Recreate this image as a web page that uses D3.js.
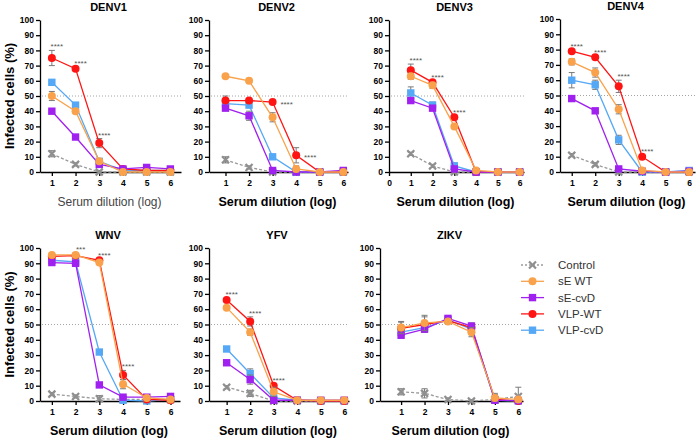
<html lang="en">
  <head>
    <meta charset="UTF-8" />
    <title>Infected cells vs serum dilution</title>
    <script src="https://d3js.org/d3.v7.min.js"></script>
  </head>
  <style>
    body {
      margin: 0;
      background: white;
    }
    svg {
      font-family: "Liberation Sans", Arial, sans-serif;
    }
    .axis path,
    .axis line {
      stroke: black;
      stroke-width: 1.3px;
    }
    .axis text {
      font-size: 8.5px;
      font-weight: bold;
      fill: black;
    }
  </style>
  <body>
    <div id="viz"></div>
    <script>
      // one row per virus, one value per dilution (1..6)
      const viruses = ["DENV1", "DENV2", "DENV3", "DENV4", "WNV", "YFV", "ZIKV"];
      const dilutions = [1, 2, 3, 4, 5, 6];
      const seriesNames = ["Control", "sE WT", "sE-cvD", "VLP-WT", "VLP-cvD"];

      const controlMean = [
        [12, 5, 0, 0, 0, 0],
        [8, 3, 0, 0, 0, 0],
        [12, 4, 0, 0, 0, 0],
        [11, 5, 0, 0, 0, 0],
        [4.5, 3, 1.5, 1, 1, 1],
        [9, 5, 0, 0, 0, 0],
        [6, 5, 1, 0, 1, 3]
      ];
      const controlErr = [
        [2, 1, 1, 0, 0, 0],
        [2, 1, 0, 0, 0, 0],
        [1, 1, 1, 0, 0, 0],
        [1, 1, 1, 0, 0, 0],
        [1, 1, 2, 0, 0, 0],
        [1, 2, 1, 0, 0, 0],
        [2, 3, 1, 1, 3, 6]
      ];
      const seWtMean = [
        [50, 40, 7, 0, 0, 0],
        [63, 60, 36, 2, 0, 0],
        [63, 57, 30, 1, 0, 0],
        [72, 65, 41, 1, 0, 0],
        [95.5, 95.5, 90.5, 11, 2, 1],
        [61, 45, 6, 0.5, 0.5, 0.5],
        [48, 51, 52, 45, 2, 1]
      ];
      const seWtErr = [
        [3, 1, 1, 0, 0, 0],
        [1, 1, 3, 2, 0, 0],
        [2, 2, 1, 1, 0, 0],
        [2, 3, 3, 1, 0, 0],
        [1, 1, 1, 3, 1, 0],
        [1, 2, 3, 1, 0, 0],
        [4, 5, 1, 3, 3, 1]
      ];
      const seCvdMean = [
        [40, 23, 5, 2, 3, 2],
        [42, 37, 1, 0, 0, 1],
        [47, 42, 2, 0, 0, 0],
        [48, 40, 2, 0.5, 0, 0.5],
        [90.5, 90, 10.5, 2.5, 2.5, 3],
        [25, 14, 0.5, 0.5, 0.5, 0.5],
        [43, 47, 54, 49, 0.5, 0.3]
      ];
      const seCvdErr = [
        [1, 1, 1, 0, 0, 0],
        [1, 3, 1, 0, 0, 2],
        [1, 1, 1, 0, 0, 0],
        [1, 1, 1, 0, 0, 0],
        [1, 1, 1, 1, 1, 1],
        [1, 3, 1, 0, 0, 0],
        [2, 2, 1, 1, 1, 0]
      ];
      const vlpWtMean = [
        [75, 68, 19, 2, 1, 1],
        [47, 47, 46, 11, 0, 0],
        [67, 59, 36, 0, 0, 0],
        [79, 75, 56, 10, 0, 0],
        [94.5, 95, 92, 17, 1, 0.5],
        [66, 52, 10, 0.5, 0, 0],
        [47.5, 50, 52.5, 48, 1, 0]
      ];
      const vlpWtErr = [
        [5, 1, 3, 0, 0, 0],
        [3, 1, 1, 5, 2, 0],
        [4, 1, 1, 0, 0, 0],
        [1, 1, 4, 1, 0, 0],
        [1, 1, 1, 3, 1, 0],
        [1, 3, 1, 0, 0, 0],
        [4, 5, 1, 3, 3, 0]
      ];
      const vlpCvdMean = [
        [59, 44, 7, 1, 1, 1],
        [45, 44, 10, 0, 0, 0],
        [52, 44, 4, 0, 0, 0],
        [60, 57, 21, 0, 0, 1],
        [92, 91, 32, 0.5, 0, 1],
        [34, 18, 2, 0.5, 0, 0],
        [45, 48, 53, 47, 0.5, 0]
      ];
      const vlpCvdErr = [
        [1, 1, 1, 0, 0, 0],
        [1, 1, 1, 0, 0, 0],
        [4, 2, 2, 0, 0, 0],
        [5, 3, 3, 0, 0, 1],
        [1, 1, 1, 1, 0, 0],
        [1, 3, 2, 0, 0, 0],
        [3, 3, 1, 2, 1, 0]
      ];

      // significance marks (VLP-WT vs control)
      const starDilutions = [[1, 2, 3], [3, 4], [1, 2, 3], [1, 2, 3, 4], [2, 3, 4], [1, 2, 3], []];
      const starLabels = [
        ["****", "****", "****"],
        ["****", "****"],
        ["****", "****", "****"],
        ["****", "****", "****", "****"],
        ["***", "****", "****"],
        ["****", "****", "****"],
        []
      ];

      // panel frames (pixels) and x domains
      const frames = [
        { left: 40, right: 181, top: 20, bottom: 172, dom: [0.5, 6.45], ticks: [1, 2, 3, 4, 5, 6], boldX: false },
        { left: 209, right: 348, top: 20, bottom: 172, dom: [0.3, 6.2], ticks: [1, 2, 3, 4, 5, 6], boldX: true },
        { left: 389, right: 524, top: 20, bottom: 172, dom: [0, 6.2], ticks: [0, 1, 2, 3, 4, 5, 6], boldX: true },
        { left: 560, right: 695, top: 19, bottom: 172, dom: [0.5, 6.25], ticks: [1, 2, 3, 4, 5, 6], boldX: true },
        { left: 40, right: 180, top: 248, bottom: 401, dom: [0.5, 6.4], ticks: [1, 2, 3, 4, 5, 6], boldX: true },
        { left: 209, right: 349, top: 248, bottom: 401, dom: [0.25, 6.2], ticks: [1, 2, 3, 4, 5, 6], boldX: true },
        { left: 380, right: 523, top: 248, bottom: 401, dom: [0.1, 6.2], ticks: [1, 2, 3, 4, 5, 6], boldX: true }
      ];

      const colors = ["#8f8f8f", "#f9a24b", "#a020f0", "#ff1414", "#55a8f5"];
      const markers = ["x", "circle", "square", "circle", "square"];
      const means = [controlMean, seWtMean, seCvdMean, vlpWtMean, vlpCvdMean];
      const errs = [controlErr, seWtErr, seCvdErr, vlpWtErr, vlpCvdErr];
      const drawOrder = [0, 4, 3, 2, 1];

      const svg = d3.select("#viz").append("svg").attr("width", 696).attr("height", 439);

      function drawMarker(g, type, cx, cy, color) {
        if (type === "circle") {
          g.append("circle").attr("cx", cx).attr("cy", cy).attr("r", 4).attr("fill", color);
        } else if (type === "square") {
          g.append("rect")
            .attr("x", cx - 3.7).attr("y", cy - 3.7)
            .attr("width", 7.4).attr("height", 7.4)
            .attr("fill", color);
        } else {
          g.append("path")
            .attr("d", `M${cx - 3.5},${cy - 3.5}L${cx + 3.5},${cy + 3.5}M${cx - 3.5},${cy + 3.5}L${cx + 3.5},${cy - 3.5}`)
            .attr("stroke", color).attr("stroke-width", 2.2).attr("fill", "none");
        }
      }

      viruses.forEach(function (virus, vi) {
        const f = frames[vi];
        const x = d3.scaleLinear().domain(f.dom).range([f.left, f.right]);
        const y = d3.scaleLinear().domain([0, 100]).range([f.bottom, f.top]);
        const g = svg.append("g");

        // 50% reference
        g.append("line")
          .attr("x1", f.left + 2).attr("x2", f.right)
          .attr("y1", y(50)).attr("y2", y(50))
          .attr("stroke", "#9a9a9a").attr("stroke-width", 0.9)
          .attr("stroke-dasharray", "1,2");

        g.append("g").attr("class", "axis")
          .attr("transform", "translate(" + f.left + ",0)")
          .call(d3.axisLeft(y).tickValues(d3.range(0, 101, 10)).tickSize(4).tickSizeOuter(0).tickPadding(2));

        g.append("g").attr("class", "axis")
          .attr("transform", "translate(0," + f.bottom + ")")
          .call(d3.axisBottom(x).tickValues(f.ticks).tickSize(4).tickSizeOuter(0).tickPadding(4).tickFormat(d3.format("d")));

        // title
        g.append("text")
          .attr("x", (f.left + f.right) / 2 - 2)
          .attr("y", f.top - 9)
          .attr("text-anchor", "middle")
          .style("font-size", "11px")
          .style("font-weight", "bold")
          .text(virus);

        // x label
        g.append("text")
          .attr("x", (f.left + f.right) / 2 - 1)
          .attr("y", f.bottom + 34)
          .attr("text-anchor", "middle")
          .style("font-size", f.boldX ? "12.5px" : "12px")
          .style("font-weight", f.boldX ? "bold" : "normal")
          .style("fill", f.boldX ? "black" : "#444")
          .text("Serum dilution (log)");

        // y label on left column
        if (f.left < 100) {
          g.append("text")
            .attr("transform", "translate(14," + (f.top + f.bottom) / 2 + ") rotate(-90)")
            .attr("text-anchor", "middle")
            .style("font-size", "13px")
            .style("font-weight", "bold")
            .text("Infected cells (%)");
        }

        drawOrder.forEach(function (si) {
          const m = means[si][vi];
          const e = errs[si][vi];
          const color = colors[si];
          const sg = g.append("g");

          // error bars
          m.forEach(function (v, j) {
            if (e[j] <= 0) return;
            const cx = x(dilutions[j]);
            const lo = y(Math.max(0, v - e[j]));
            const hi = y(v + e[j]);
            sg.append("line").attr("x1", cx).attr("x2", cx).attr("y1", lo).attr("y2", hi)
              .attr("stroke", "#7a7a7a").attr("stroke-width", 1);
            [lo, hi].forEach(function (yy) {
              sg.append("line").attr("x1", cx - 3).attr("x2", cx + 3).attr("y1", yy).attr("y2", yy)
                .attr("stroke", "#7a7a7a").attr("stroke-width", 1);
            });
          });

          sg.append("path")
            .datum(m)
            .attr("fill", "none")
            .attr("stroke", si === 0 ? "#9a9a9a" : color)
            .attr("stroke-width", 1.3)
            .attr("stroke-dasharray", si === 0 ? "3,2" : null)
            .attr("d", d3.line().x((d, j) => x(dilutions[j])).y((d) => y(d)));

          m.forEach(function (v, j) {
            drawMarker(sg, markers[si], x(dilutions[j]), y(v), color);
          });
        });

        // significance stars
        starDilutions[vi].forEach(function (dil, k) {
          const j = dilutions.indexOf(dil);
          const px = x(dil);
          let tx, ty;
          if (vi === 1) {
            tx = px + 14;
            ty = y(vlpWtMean[vi][j]) + 4.5;
          } else {
            const top = d3.max(means, (s, si) => s[vi][j] + errs[si][vi][j]);
            tx = px + 5;
            ty = y(top) - 1;
          }
          g.append("text")
            .attr("x", tx).attr("y", ty)
            .attr("text-anchor", "middle")
            .style("font-size", "8px")
            .style("fill", "#555")
            .text(starLabels[vi][k]);
        });
      });

      // legend
      const legend = svg.append("g").attr("transform", "translate(521,265)");
      seriesNames.forEach(function (name, si) {
        const row = legend.append("g").attr("transform", "translate(0," + si * 16.3 + ")");
        row.append("line")
          .attr("x1", 0).attr("x2", 23).attr("y1", 0).attr("y2", 0)
          .attr("stroke", si === 0 ? "#9a9a9a" : colors[si])
          .attr("stroke-width", 1.3)
          .attr("stroke-dasharray", si === 0 ? "2,2" : null);
        drawMarker(row, markers[si], 11.5, 0, colors[si]);
        row.append("text")
          .attr("x", 37).attr("y", 4)
          .style("font-size", "11.5px")
          .style("fill", "#333")
          .text(name);
      });
    </script>
  </body>
</html>
